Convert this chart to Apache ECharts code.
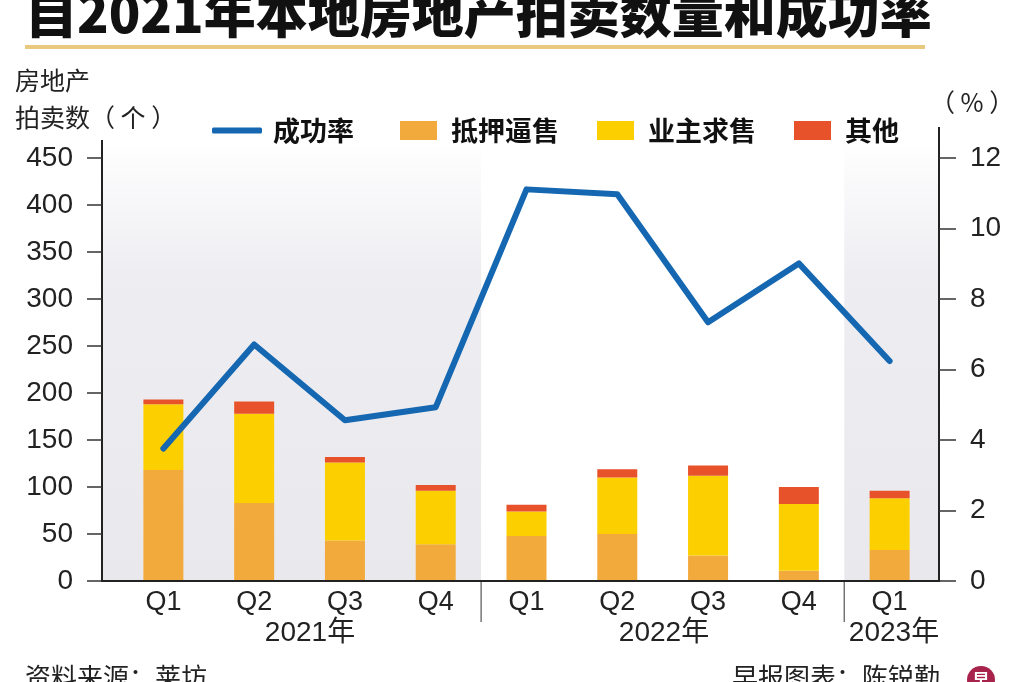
<!DOCTYPE html>
<html>
<head>
<meta charset="utf-8">
<script src="https://cdn.jsdelivr.net/npm/echarts@6/dist/echarts.min.js"></script>
<style>
  html, body { margin: 0; padding: 0; background: #fff; }
  #chart { width: 1024px; height: 682px; }
</style>
</head>
<body>
<div id="chart"></div>
<script>
// 数据
var years    = ['2021', '2021', '2021', '2021', '2022', '2022', '2022', '2022', '2023'];
var quarters = ['Q1', 'Q2', 'Q3', 'Q4', 'Q1', 'Q2', 'Q3', 'Q4', 'Q1'];
var forced   = [118, 83, 43, 39, 48, 50, 27, 11, 33];   // 抵押逼售
var owner    = [70, 95, 83, 57, 26, 60, 85, 71, 55];    // 业主求售
var others   = [5, 13, 6, 6, 7, 9, 11, 18, 8];          // 其他
var rate     = [3.76, 6.71, 4.56, 4.93, 11.11, 10.97, 7.34, 9.01, 6.24]; // 成功率 %
var yearLabels = ['2021年', '2022年', '2023年'];
var leftTicks  = [0, 450, 50];
var rightTicks = [0, 12, 2];

var categories = years.map(function (y, i) { return y + ' ' + quarters[i]; });

var FONT = '"Liberation Sans", "Noto Sans CJK SC", sans-serif';
var CJK = '"Noto Sans CJK SC", sans-serif';
var gridL = 118, gridR = 935, gridT = 158, gridB = 581;
var leftAxisX = 102, rightAxisX = 939;

var chart = echarts.init(document.getElementById('chart'));

var option = {
  backgroundColor: '#fff',
  animation: false,
  grid: { left: gridL, right: 1024 - gridR, top: gridT, bottom: 682 - gridB },
  legend: [
    {
      data: ['成功率'], left: 212, top: 117, padding: 0,
      icon: 'roundRect', itemWidth: 50, itemHeight: 6,
      textStyle: { fontFamily: CJK, fontSize: 27, fontWeight: 'bold', color: '#111', padding: [0, 0, 0, 6] }
    },
    {
      data: ['抵押逼售', '业主求售', '其他'], left: 400, top: 117, padding: 0,
      icon: 'rect', itemWidth: 37, itemHeight: 19, itemGap: 38,
      textStyle: { fontFamily: CJK, fontSize: 27, fontWeight: 'bold', color: '#111', padding: [0, 0, 0, 9] }
    }
  ],
  xAxis: {
    type: 'category',
    data: categories,
    axisLine: { show: false },
    axisTick: { show: false },
    axisLabel: {
      margin: 8, fontFamily: FONT, fontSize: 27, color: '#222',
      formatter: function (v) { return v.split(' ')[1]; }
    }
  },
  yAxis: [
    {
      type: 'value', min: leftTicks[0], max: leftTicks[1], interval: leftTicks[2],
      offset: gridL - leftAxisX,
      splitLine: { show: false },
      axisLine: { show: true, lineStyle: { color: '#222', width: 2 } },
      axisTick: { show: true, length: 15, lineStyle: { color: '#333', width: 1.5 } },
      axisLabel: { margin: 29, fontFamily: FONT, fontSize: 28, color: '#222' }
    },
    {
      type: 'value', min: rightTicks[0], max: rightTicks[1], interval: rightTicks[2],
      offset: rightAxisX - gridR,
      splitLine: { show: false },
      axisLine: { show: true, lineStyle: { color: '#222', width: 2 } },
      axisTick: { show: true, length: 17, lineStyle: { color: '#333', width: 1.5 } },
      axisLabel: { margin: 31, fontFamily: FONT, fontSize: 28, color: '#222' }
    }
  ],
  series: [
    { name: '抵押逼售', type: 'bar', stack: 'n', barWidth: 40, data: forced,
      itemStyle: { color: '#f3aa3c' } },
    { name: '业主求售', type: 'bar', stack: 'n', barWidth: 40, data: owner,
      itemStyle: { color: '#fccf00' } },
    { name: '其他', type: 'bar', stack: 'n', barWidth: 40, data: others,
      itemStyle: { color: '#e8522b' } },
    { name: '成功率', type: 'line', yAxisIndex: 1, data: rate, z: 10,
      symbol: 'none', itemStyle: { color: '#1467b0' },
      lineStyle: { width: 6, color: '#1467b0', cap: 'round', join: 'round' } }
  ]
};
chart.setOption(option);

// 年份分隔线、背景等
var c3 = chart.convertToPixel({ xAxisIndex: 0 }, 3);
var c4 = chart.convertToPixel({ xAxisIndex: 0 }, 4);
var c7 = chart.convertToPixel({ xAxisIndex: 0 }, 7);
var c8 = chart.convertToPixel({ xAxisIndex: 0 }, 8);
var div1 = (c3 + c4) / 2, div2 = (c7 + c8) / 2;

function bgFill() {
  return new echarts.graphic.LinearGradient(0, 0, 0, 1, [
    { offset: 0, color: '#ffffff' },
    { offset: 0.3, color: '#eeeef2' },
    { offset: 1, color: '#e9e9ed' }
  ]);
}

chart.setOption({
  graphic: [
    { type: 'rect', z: -10, shape: { x: leftAxisX, y: 140, width: div1 - leftAxisX, height: gridB - 140 },
      style: { fill: bgFill() } },
    { type: 'rect', z: -10, shape: { x: div2, y: 140, width: rightAxisX - div2, height: gridB - 140 },
      style: { fill: bgFill() } },
    // x 轴线
    { type: 'line', z: 5, shape: { x1: leftAxisX - 1, y1: gridB, x2: rightAxisX + 1, y2: gridB },
      style: { stroke: '#222', lineWidth: 2 } },
    // y 轴线向上延伸
    { type: 'line', shape: { x1: leftAxisX, y1: 140, x2: leftAxisX, y2: gridT },
      style: { stroke: '#222', lineWidth: 2 } },
    { type: 'line', shape: { x1: rightAxisX, y1: 127, x2: rightAxisX, y2: gridT },
      style: { stroke: '#222', lineWidth: 2 } },
    // 年份分隔线
    { type: 'line', shape: { x1: div1, y1: gridB, x2: div1, y2: 622 },
      style: { stroke: '#555', lineWidth: 1.2 } },
    { type: 'line', shape: { x1: div2, y1: gridB, x2: div2, y2: 622 },
      style: { stroke: '#555', lineWidth: 1.2 } },
    // 年份
    { type: 'text', x: 310, y: 633, style: { text: yearLabels[0], font: '28px ' + FONT, fill: '#222', align: 'center', verticalAlign: 'middle' } },
    { type: 'text', x: 664, y: 633, style: { text: yearLabels[1], font: '28px ' + FONT, fill: '#222', align: 'center', verticalAlign: 'middle' } },
    { type: 'text', x: 894, y: 633, style: { text: yearLabels[2], font: '28px ' + FONT, fill: '#222', align: 'center', verticalAlign: 'middle' } },
    // 标题
    { type: 'text', x: 25, y: 39, style: { text: '自2021年本地房地产拍卖数量和成功率', font: '900 52px ' + CJK, fill: '#111', align: 'left', verticalAlign: 'bottom' } },
    { type: 'rect', shape: { x: 25, y: 45, width: 900, height: 4 }, style: { fill: '#e8c97d' } },
    // 轴标题
    { type: 'text', x: 15, y: 62, style: { text: '房地产\n拍卖数（ 个 ）', font: '25px ' + CJK, fill: '#222', lineHeight: 37, align: 'left', verticalAlign: 'top' } },
    { type: 'text', x: 930, y: 102, style: { text: '（ % ）', font: '25px ' + CJK, fill: '#222', align: 'left', verticalAlign: 'middle' } },
    // 来源
    { type: 'text', x: 25, y: 664, style: { text: '资料来源：莱坊', font: '26px ' + CJK, fill: '#222', align: 'left', verticalAlign: 'top' } },
    { type: 'text', x: 940, y: 664, style: { text: '早报图表：陈锐勤', font: '26px ' + CJK, fill: '#222', align: 'right', verticalAlign: 'top' } },
    { type: 'circle', shape: { cx: 981, cy: 680, r: 14 }, style: { fill: '#a8234b' } },
    { type: 'text', x: 981, y: 680, style: { text: '早', font: 'bold 17px ' + CJK, fill: '#fff', align: 'center', verticalAlign: 'middle' } }
  ]
});
</script>
</body>
</html>
